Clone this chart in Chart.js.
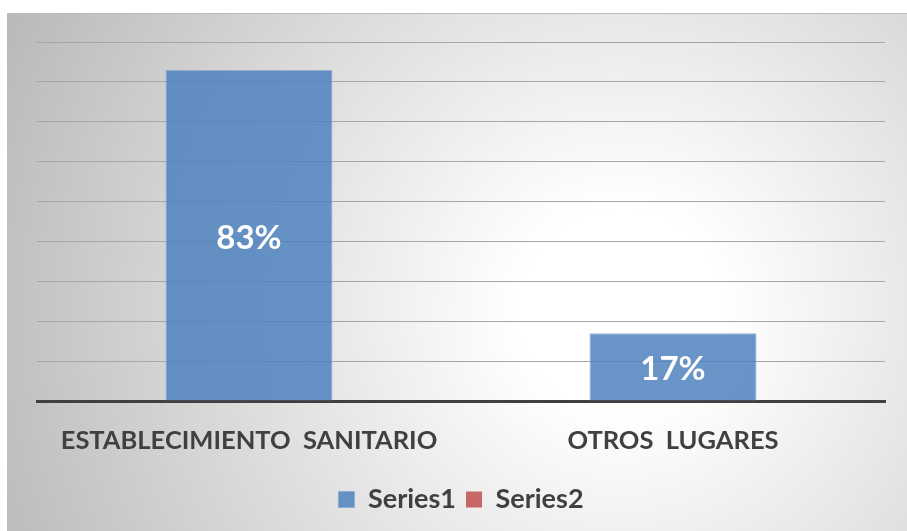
<!DOCTYPE html>
<html>
<head>
<meta charset="utf-8">
<script src="https://cdn.jsdelivr.net/npm/chart.js@4/dist/chart.umd.min.js"></script>
<style>
    html, body { margin: 0; padding: 0; background: #fff; }
    #wrap { width: 907px; height: 531px; position: relative; }
</style>
</head>
<body>
<div id="wrap"><canvas id="chart"></canvas></div>
<script>
const categories = ["ESTABLECIMIENTO  SANITARIO", "OTROS  LUGARES"];
const series1 = [0.83, 0.17];
const series2 = [null, null];
const seriesNames = ["Series1", "Series2"];

// fondo con degradado radial como en Excel
const backgroundPlugin = {
    id: "frameBackground",
    beforeDraw(chart) {
        const ctx = chart.ctx;
        ctx.save();
        ctx.fillStyle = "#ffffff";
        ctx.fillRect(0, 0, chart.width, chart.height);
        const x0 = 7, y0 = 13, w = chart.width - x0, h = chart.height - y0;
        const g = ctx.createRadialGradient(620, 310, 0, 620, 310, 680);
        g.addColorStop(0, "#ffffff");
        g.addColorStop(0.15, "#ffffff");
        g.addColorStop(1, "#b9b9b9");
        ctx.fillStyle = g;
        ctx.fillRect(x0, y0, w, h);
        ctx.strokeStyle = "#bcbcbc";
        ctx.lineWidth = 1;
        ctx.beginPath();
        ctx.moveTo(x0, y0 + 0.5);
        ctx.lineTo(chart.width, y0 + 0.5);
        ctx.stroke();
        ctx.restore();
    }
};

// etiquetas de porcentaje dentro de las barras
const valueLabels = {
    id: "valueLabels",
    afterDatasetsDraw(chart) {
        const ctx = chart.ctx;
        const meta = chart.getDatasetMeta(0);
        ctx.save();
        ctx.fillStyle = "#ffffff";
        ctx.font = "bold 33px Lato";
        ctx.textAlign = "center";
        ctx.textBaseline = "middle";
        meta.data.forEach((bar, i) => {
            const p = bar.getCenterPoint();
            ctx.fillText(Math.round(series1[i] * 100) + "%", p.x, p.y + 3);
        });
        ctx.restore();
    }
};

new Chart(document.getElementById("chart"), {
    type: "bar",
    data: {
        labels: categories,
        datasets: [{
            label: seriesNames[0],
            data: series1,
            backgroundColor: "rgba(79,129,189,0.85)",
            borderColor: "rgba(140,170,210,0.9)",
            borderWidth: 1,
            grouped: false,
            categoryPercentage: 1,
            barPercentage: 0.394
        }, {
            label: seriesNames[1],
            data: series2,
            backgroundColor: "rgba(192,80,77,0.85)",
            borderColor: "rgba(192,80,77,0.85)",
            grouped: false,
            categoryPercentage: 1,
            barPercentage: 0.394
        }]
    },
    options: {
        responsive: true,
        maintainAspectRatio: false,
        animation: false,
        layout: { padding: { left: 37, right: 22, top: 42, bottom: 8 } },
        plugins: {
            tooltip: { enabled: false },
            legend: {
                position: "bottom",
                labels: {
                    color: "#404040",
                    font: { family: "Lato", size: 27, weight: "bold" },
                    boxWidth: 16,
                    boxHeight: 16,
                    padding: 10
                }
            }
        },
        scales: {
            x: {
                grid: { display: false, drawTicks: false },
                border: { display: true, color: "#404040", width: 3 },
                ticks: {
                    color: "#404040",
                    font: { family: "Lato", size: 25.5, weight: "bold" },
                    padding: 24,
                    maxRotation: 0
                },
                afterFit(scale) { scale.height = 75; }
            },
            y: {
                min: 0,
                max: 0.9,
                ticks: { display: false, stepSize: 0.1 },
                grid: {
                    drawTicks: false,
                    color: c => c.tick.value === 0 ? "transparent" : "#a6a6a6",
                    lineWidth: 1
                },
                border: { display: false },
                afterFit(scale) { scale.width = 0; }
            }
        }
    },
    plugins: [backgroundPlugin, valueLabels]
});
</script>
</body>
</html>
